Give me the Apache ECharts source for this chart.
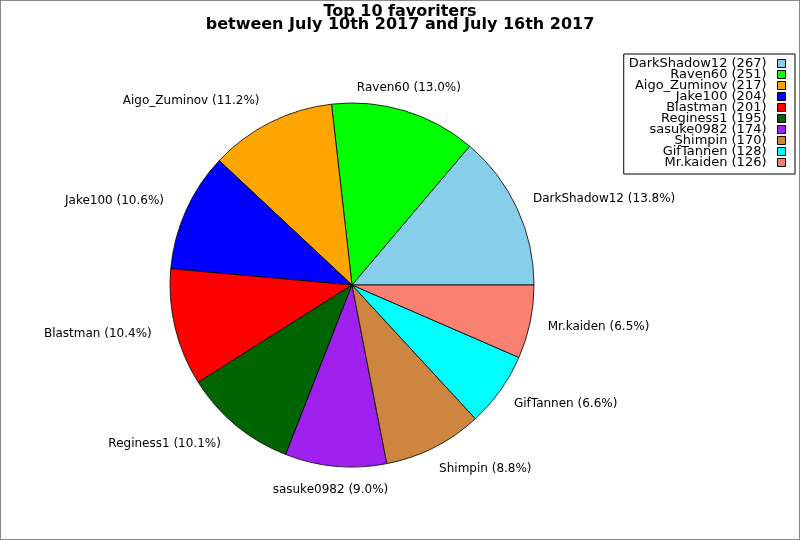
<!DOCTYPE html>
<html>
<head>
<meta charset="utf-8">
<script src="https://cdn.jsdelivr.net/npm/echarts@6/dist/echarts.min.js"></script>
<style>
  html, body { margin: 0; padding: 0; background: #fff; }
  #chart { width: 800px; height: 540px; box-sizing: border-box; border: 1px solid #888; }
</style>
</head>
<body>
<div id="chart"></div>
<script>
// data
var names = ['DarkShadow12', 'Raven60', 'Aigo_Zuminov', 'Jake100', 'Blastman',
             'Reginess1', 'sasuke0982', 'Shimpin', 'GifTannen', 'Mr.kaiden'];
var counts = [267, 251, 217, 204, 201, 195, 174, 170, 128, 126];
var colors = ['#87ceeb', '#00ff00', '#ffa500', '#0000ff', '#ff0000',
              '#006400', '#a020f0', '#cd853f', '#00ffff', '#fa8072'];

var total = counts.reduce(function (a, b) { return a + b; }, 0);
var countOf = {};
names.forEach(function (n, i) { countOf[n] = counts[i]; });

var font = 'DejaVu Sans';
var pieCenter = [351, 284];
var chart = echarts.init(document.getElementById('chart'));

// labels near the top/bottom are centred over their slice, the rest sit beside it
function placeLabel(p) {
    var r = p.labelRect;
    var ax = p.align === 'right' ? r.x + r.width : r.x;
    var ay = r.y + r.height / 2;
    var ang = Math.atan2(pieCenter[1] - ay, ax - pieCenter[0]);
    if (Math.abs(Math.cos(ang)) < 0.35) {
        return { align: 'center', dx: -3 };
    }
    return { dx: p.align === 'right' ? 0 : -6 };
}

chart.setOption({
    animation: false,
    title: {
        text: 'Top 10 favoriters\nbetween July 10th 2017 and July 16th 2017',
        left: 'center',
        top: 4,
        padding: 0,
        textStyle: { fontFamily: font, fontSize: 16, fontWeight: 'bold', color: '#000', lineHeight: 13.5 }
    },
    legend: {
        orient: 'vertical',
        right: 4,
        top: 53,
        align: 'right',
        icon: 'rect',
        itemWidth: 8,
        itemHeight: 8,
        itemGap: -2,
        padding: [3, 9, 5, 5],
        borderColor: '#000',
        borderWidth: 1,
        selectedMode: false,
        itemStyle: { borderColor: '#000', borderWidth: 1 },
        formatter: function (n) { return n + ' (' + countOf[n] + ')'; },
        textStyle: {
            fontFamily: font, fontSize: 13, color: '#000',
            lineHeight: 11, width: 136, align: 'right', padding: [0, 6, 0, 0]
        },
        data: names
    },
    series: [{
        type: 'pie',
        center: pieCenter,
        radius: 182,
        startAngle: 0,
        clockwise: false,
        avoidLabelOverlap: false,
        color: colors,
        itemStyle: { borderColor: '#000', borderWidth: 0.8 },
        emphasis: { disabled: true },
        label: {
            position: 'outside',
            distanceToLabelLine: 0,
            fontFamily: font,
            fontSize: 12,
            color: '#000',
            formatter: function (p) {
                return p.name + ' (' + (p.value / total * 100).toFixed(1) + '%)';
            }
        },
        labelLine: { show: false, length: 24, length2: 0 },
        labelLayout: placeLabel,
        data: names.map(function (n, i) { return { name: n, value: counts[i] }; })
    }]
});
</script>
</body>
</html>
